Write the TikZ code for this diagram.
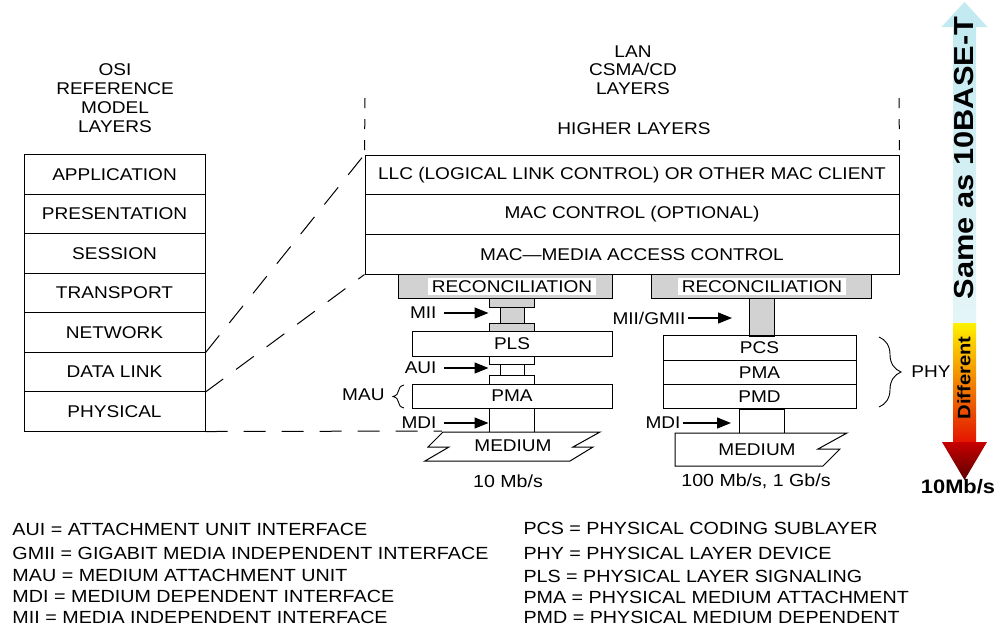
\documentclass[tikz,border=0pt]{standalone}
\usepackage{fontspec}
\setmainfont{Liberation Sans}[FakeStretch=1.12]
\usetikzlibrary{arrows.meta,decorations.pathreplacing}
\definecolor{cyanA}{HTML}{C3EAF1}
\definecolor{cyanB}{HTML}{E4F5F8}
\definecolor{grayfill}{HTML}{D2D2D2}
\definecolor{yelA}{HTML}{FFF200}
\definecolor{oraA}{HTML}{FF8C00}
\definecolor{redA}{HTML}{E41400}
\definecolor{redB}{HTML}{C80000}
\definecolor{redC}{HTML}{5A0000}
\begin{document}
\begin{tikzpicture}[x=1pt,y=-1pt,line width=1pt,
  txt/.style={inner sep=2pt,font=\fontsize{17}{19}\selectfont},
  osi/.style={draw,inner sep=0pt,minimum width=181,minimum height=39.43,font=\fontsize{17}{19}\selectfont},
  lan/.style={draw,inner sep=0pt,minimum width=534,minimum height=39.67,font=\fontsize{17}{19}\selectfont},
  sub/.style={draw,inner sep=0pt,font=\fontsize{17}{19}\selectfont},
  gbox/.style={draw,fill=grayfill,inner sep=0pt},
  wbox/.style={draw,fill=white,inner sep=0pt},
  rectxt/.style={fill=white,inner xsep=4pt,inner ysep=0pt,minimum height=17,font=\fontsize{17}{19}\selectfont},
  arr/.style={line width=1.3pt,-{Triangle[length=14pt,width=11pt]}},
  dsh/.style={dash pattern=on 22pt off 16pt},
  vdsh/.style={dash pattern=on 10pt off 11pt},
  leg/.style={anchor=west,inner sep=0pt,font=\fontsize{17.6}{19}\selectfont},
  brc/.style={decorate,line width=0.9pt}]
\fill[white] (0,0) rectangle (1002,625);
\useasboundingbox (0,0) rectangle (1002,625);

% OSI column
\node[txt,align=center,font=\fontsize{17}{19}\selectfont] (osititle) at (115,98) {OSI\\REFERENCE\\MODEL\\LAYERS};
\node[osi] (app)  at (114.5,174.7) {APPLICATION};
\node[osi] (pres) at (114.5,214.1) {PRESENTATION};
\node[osi] (sess) at (114.5,253.6) {SESSION};
\node[osi] (trans) at (114.5,293.0) {TRANSPORT};
\node[osi] (net)  at (114.5,332.4) {NETWORK};
\node[osi] (dl)   at (114.5,371.8) {DATA LINK};
\node[osi] (phys) at (114.5,411.3) {PHYSICAL};

% LAN column
\node[txt,align=center,font=\fontsize{17}{18.3}\selectfont] (lantitle) at (633,70) {LAN\\CSMA/CD\\LAYERS};
\node[txt] (higher) at (634,129) {HIGHER LAYERS};
\node[lan] (llc) at (632,174.83) {LLC (LOGICAL LINK CONTROL) OR OTHER MAC CLIENT};
\node[lan] (macc) at (632,214.5) {MAC CONTROL (OPTIONAL)};
\node[lan] (mac)  at (632,254.17) {MAC---MEDIA ACCESS CONTROL};
\coordinate (hl1) at (365,98);
\coordinate (hl2) at (899,98);
\draw[vdsh] (hl1) -- (llc.north west);
\draw[vdsh] (hl2) -- (llc.north east);

% dashed mapping lines
\coordinate (physend) at (442,431);
\draw[dsh] (net.south east) -- (llc.north west);
\draw[dsh] (dl.south east) -- (mac.south west);
\draw[dsh] (phys.south east) -- (physend);

% 10 Mb/s stack
\node[gbox,minimum width=214,minimum height=24] (rec1) at (505,286) {};
\node[rectxt] (rec1t) at (512,286.5) {RECONCILIATION};
\node[gbox,minimum width=45,minimum height=9] (miitop) at (511.5,302.5) {};
\node[gbox,minimum width=24,minimum height=16] (miimid) at (512,315) {};
\node[gbox,minimum width=45,minimum height=8] (miibot) at (511.5,327) {};
\node[sub,minimum width=200,minimum height=25] (pls) at (512,343.5) {PLS};
\node[wbox,minimum width=45,minimum height=8] (auitop) at (511.5,360) {};
\node[wbox,minimum width=24,minimum height=11] (auimid) at (512,369.5) {};
\node[wbox,minimum width=45,minimum height=9] (auibot) at (511.5,379.5) {};
\node[sub,minimum width=200,minimum height=24] (pma1) at (512,396) {PMA};
\node[wbox,minimum width=45,minimum height=24] (mdi1) at (511.5,420) {};
\draw[fill=white] (443,432) -- (600,432) -- (573,447) -- (593,447) -- (570,461)
  -- (425,461) -- (449,447) -- (428,447) -- cycle;
\node[txt] (med1) at (513,446) {MEDIUM};
\node[txt,font=\fontsize{17.5}{19}\selectfont] (rate1) at (508,481) {10 Mb/s};

% labels 10 Mb/s
\node[txt,anchor=east] (miil) at (439,313) {MII};
\draw[arr] ([xshift=5pt]miil.east) -- (miil.east -| miitop.west);
\node[txt,anchor=east] (auil) at (439,368) {AUI};
\draw[arr] ([xshift=5pt]auil.east) -- (auil.east -| auitop.west);
\node[txt,anchor=east] (mdil) at (439,423) {MDI};
\draw[arr] ([xshift=5pt]mdil.east) -- (mdil.east -| mdi1.west);
\node[txt,anchor=east] (maul) at (387,395) {MAU};
\coordinate (maub) at (404,408);
\coordinate (maut) at (404,385);
\draw[brc,decoration={brace,amplitude=11pt}] (maub) -- (maut);

% 100 Mb/s, 1 Gb/s stack
\node[gbox,minimum width=220,minimum height=24] (rec2) at (761,286) {};
\node[rectxt] (rec2t) at (762,286.5) {RECONCILIATION};
\node[gbox,minimum width=25,minimum height=38] (gmii) at (761.5,317) {};
\node[sub,minimum width=193,minimum height=24.23] (pcs) at (759.5,348.1) {PCS};
\node[sub,minimum width=193,minimum height=24.23] (pma2) at (759.5,372.4) {PMA};
\node[sub,minimum width=193,minimum height=24.23] (pmd) at (759.5,396.6) {PMD};
\node[wbox,minimum width=45,minimum height=24] (mdi2) at (761.5,421) {};
\draw[fill=white] (675,433) -- (847,433) -- (818,449) -- (840,449) -- (823,466)
  -- (675,466) -- cycle;
\node[txt] (med2) at (757,450) {MEDIUM};
\node[txt,font=\fontsize{17.5}{19}\selectfont] (rate2) at (756,481) {100 Mb/s, 1 Gb/s};

\node[txt,anchor=east] (gmiil) at (688,318) {MII/GMII};
\coordinate (gmiiend) at (732,318);
\draw[arr] (gmiil.east) -- (gmiiend);
\node[txt,anchor=east] (mdi2l) at (683,423) {MDI};
\coordinate (mdi2end) at (731,423);
\draw[arr] (mdi2l.east) -- (mdi2end);
\coordinate (phyt) at (879,337);
\coordinate (phyb) at (879,407);
\draw[brc,decoration={brace,amplitude=22pt}] (phyt) -- (phyb);
\node[txt] (phy) at (931,372) {PHY};

% gradient arrow
\shade[top color=cyanA,bottom color=cyanB] (953,26) rectangle (976,323);
\fill[cyanA] (941.5,27) -- (964.5,2) -- (987.5,27) -- cycle;
\shade[top color=yelA,middle color=oraA,bottom color=redA] (953,323) rectangle (976,442);
\shade[top color=redB,bottom color=redC] (942,442) -- (987,442) -- (964.5,480) -- cycle;
\node[rotate=90,inner sep=0pt,font=\fontsize{27.5}{30}\selectfont\bfseries] (same) at (964.5,158) {Same as 10BASE-T};
\node[rotate=90,inner sep=0pt,font=\fontsize{18}{20}\selectfont\bfseries] (diff) at (964,378) {Different};
\node[inner sep=0pt,font=\fontsize{19.5}{22}\selectfont\bfseries] (tenmb) at (958,487) {10Mb/s};

% legend
\node[leg] (l1) at (12,529) {AUI = ATTACHMENT UNIT INTERFACE};
\node[leg] (l2) at (12,553) {GMII = GIGABIT MEDIA INDEPENDENT INTERFACE};
\node[leg] (l3) at (12,575.5) {MAU = MEDIUM ATTACHMENT UNIT};
\node[leg] (l4) at (12,596) {MDI = MEDIUM DEPENDENT INTERFACE};
\node[leg] (l5) at (12,617) {MII = MEDIA INDEPENDENT INTERFACE};
\node[leg] (r1) at (523,528.5) {PCS = PHYSICAL CODING SUBLAYER};
\node[leg] (r2) at (523,553) {PHY = PHYSICAL LAYER DEVICE};
\node[leg] (r3) at (523,576.5) {PLS = PHYSICAL LAYER SIGNALING};
\node[leg] (r4) at (523,597) {PMA = PHYSICAL MEDIUM ATTACHMENT};
\node[leg] (r5) at (523,617) {PMD = PHYSICAL MEDIUM DEPENDENT};
\end{tikzpicture}
\end{document}
